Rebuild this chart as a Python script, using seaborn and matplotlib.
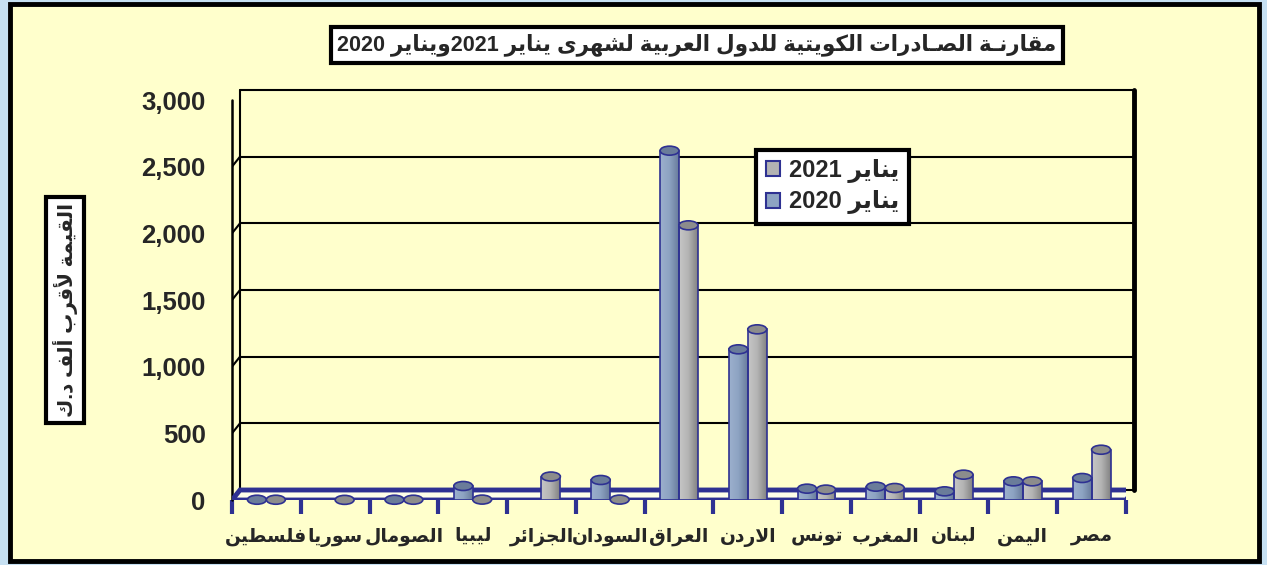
import re
import numpy as np
import pandas as pd
import matplotlib
matplotlib.use('Agg')
import matplotlib.pyplot as plt
import seaborn as sns
from matplotlib.patches import Ellipse, Rectangle, Polygon
from matplotlib.lines import Line2D
from matplotlib.transforms import offset_copy, IdentityTransform
from matplotlib.ticker import FuncFormatter
from matplotlib.colors import LinearSegmentedColormap

# data (values in thousand KD)
countries = ['فلسطين', 'سوريا', 'الصومال', 'ليبيا', 'الجزائر', 'السودان', 'العراق',
             'الاردن', 'تونس', 'المغرب', 'لبنان', 'اليمن', 'مصر']
jan_2020 = [2, 0, 2, 105, 0, 150, 2620, 1130, 85, 100, 65, 140, 165]
jan_2021 = [2, 1, 2, 3, 176, 3, 2060, 1280, 78, 90, 190, 140, 377]
years = ['2020', '2021']
y_ticks = [0, 500, 1000, 1500, 2000, 2500, 3000]

title = 'مقارنـة الصـادرات الكويتية للدول العربية لشهرى يناير 2021ويناير 2020'
ylabel = 'القيمة لأقرب ألف د.ك'
legend_labels = {'2021': 'يناير 2021', '2020': 'يناير 2020'}


# --- minimal Arabic shaping + right-to-left ordering (matplotlib has no shaping) ---
_letters = [('\u0621', 0xFE80, 1), ('\u0622', 0xFE81, 2), ('\u0623', 0xFE83, 2),
            ('\u0624', 0xFE85, 2), ('\u0625', 0xFE87, 2), ('\u0626', 0xFE89, 4),
            ('\u0627', 0xFE8D, 2), ('\u0628', 0xFE8F, 4), ('\u0629', 0xFE93, 2),
            ('\u062a', 0xFE95, 4), ('\u062b', 0xFE99, 4), ('\u062c', 0xFE9D, 4),
            ('\u062d', 0xFEA1, 4), ('\u062e', 0xFEA5, 4), ('\u062f', 0xFEA9, 2),
            ('\u0630', 0xFEAB, 2), ('\u0631', 0xFEAD, 2), ('\u0632', 0xFEAF, 2),
            ('\u0633', 0xFEB1, 4), ('\u0634', 0xFEB5, 4), ('\u0635', 0xFEB9, 4),
            ('\u0636', 0xFEBD, 4), ('\u0637', 0xFEC1, 4), ('\u0638', 0xFEC5, 4),
            ('\u0639', 0xFEC9, 4), ('\u063a', 0xFECD, 4), ('\u0641', 0xFED1, 4),
            ('\u0642', 0xFED5, 4), ('\u0643', 0xFED9, 4), ('\u0644', 0xFEDD, 4),
            ('\u0645', 0xFEE1, 4), ('\u0646', 0xFEE5, 4), ('\u0647', 0xFEE9, 4),
            ('\u0648', 0xFEED, 2), ('\u0649', 0xFEEF, 2), ('\u064a', 0xFEF1, 4)]
FORMS = {c: [chr(b + k) if k < n else None for k in range(4)] for c, b, n in _letters}
FORMS['\u0640'] = ['\u0640'] * 4  # tatweel
LAM_ALEF = {'\u0622': 0xFEF5, '\u0623': 0xFEF7, '\u0625': 0xFEF9, '\u0627': 0xFEFB}


def shape(text):
    out = []
    prev_joins = False
    i = 0
    while i < len(text):
        c = text[i]
        if c == '\u0644' and i + 1 < len(text) and text[i + 1] in LAM_ALEF:
            out.append(chr(LAM_ALEF[text[i + 1]] + (1 if prev_joins else 0)))
            prev_joins = False
            i += 2
            continue
        if c not in FORMS:
            out.append(c)
            prev_joins = False
            i += 1
            continue
        f = FORMS[c]
        nxt = text[i + 1] if i + 1 < len(text) else ''
        join_next = f[2] is not None and nxt in FORMS
        if prev_joins and join_next:
            out.append(f[3])
        elif prev_joins:
            out.append(f[1])
        elif join_next:
            out.append(f[2])
        else:
            out.append(f[0])
        prev_joins = join_next
        i += 1
    return ''.join(out)


def visual(text):
    tokens = re.split(r'([0-9][0-9,\.]*)', shape(text))
    return ''.join(t if re.match(r'[0-9]', t) else t[::-1] for t in reversed(tokens))


navy = '#2e3192'
bg = '#ffffcc'
palette = {'2020': '#8da3c2', '2021': '#b3b3b3'}
top_colors = {'2020': '#6a7c9a', '2021': '#8c8c8c'}
cmaps = {'2020': LinearSegmentedColormap.from_list('b', ['#9cb0cd', '#8da3c2', '#687c9c']),
         '2021': LinearSegmentedColormap.from_list('g', ['#c6c6c6', '#b3b3b3', '#828282'])}

df = pd.DataFrame({
    'country': [visual(c) for c in countries] * 2,
    'year': ['2020'] * len(countries) + ['2021'] * len(countries),
    'value': jan_2020 + jan_2021,
})

sns.set_style('white')
plt.rcParams['font.family'] = ['Liberation Sans', 'DejaVu Sans']
plt.rcParams['font.weight'] = 'bold'

fig = plt.figure(figsize=(12.67, 5.65), dpi=100)
fig.patch.set_facecolor('#c6e0f2')
fig.add_artist(Rectangle((10 / 1267, 4 / 565), 1249 / 1267, 557 / 565, transform=fig.transFigure,
                         facecolor=bg, edgecolor='black', linewidth=3.5, zorder=0))

ax = fig.add_axes([232 / 1267, 1 - 500 / 565, 894 / 1267, 400 / 565])
ax.set_facecolor('none')

sns.barplot(data=df, x='country', y='value', hue='year', hue_order=years, palette=palette,
            width=0.55, saturation=1, edgecolor=navy, linewidth=1.2, legend=False, ax=ax, zorder=3)

ax.set_xlim(-0.5, 12.5)
ax.set_ylim(0, 3000)
for s in ax.spines.values():
    s.set_visible(False)

px_per_unit = ax.transData.transform((0, 1))[1] - ax.transData.transform((0, 0))[1]
ell_h = 9 / px_per_unit

# cylinders: gradient body + elliptical top
grad = np.linspace(0, 1, 64).reshape(1, -1)
for yr, cont in zip(years, ax.containers):
    for patch in cont.patches:
        h = patch.get_height()
        if not h or np.isnan(h):
            continue
        x0, w = patch.get_x(), patch.get_width()
        ax.imshow(grad, extent=(x0, x0 + w, 0, h), aspect='auto', cmap=cmaps[yr], zorder=2.9)
        patch.set_facecolor('none')
        ax.add_patch(Ellipse((x0 + w / 2, h), w, ell_h, facecolor=top_colors[yr],
                             edgecolor=navy, linewidth=1.2, zorder=4, clip_on=False))
ax.set_xlim(-0.5, 12.5)
ax.set_ylim(0, 3000)

# back wall grid, left wall and right axis (3D look)
back = offset_copy(ax.transData, fig=fig, x=8, y=10, units='dots')
for t in y_ticks:
    ax.plot([-0.5, 12.5], [t, t], color='black', lw=1.5, transform=back, clip_on=False, zorder=1)
    p = ax.transData.transform((-0.5, t))
    ax.add_line(Line2D([p[0], p[0] + 8], [p[1], p[1] + 10], color='black', lw=1.5,
                       transform=IdentityTransform(), zorder=1))
    q = back.transform((12.5, t))
    ax.add_line(Line2D([q[0], q[0] + 9], [q[1], q[1]], color='black', lw=4,
                       transform=IdentityTransform(), zorder=1))
ax.plot([-0.5, -0.5], [0, 3000], color='black', lw=1.8, clip_on=False, zorder=1)
ax.plot([-0.5, -0.5], [0, 3000], color='black', lw=1.5, transform=back, clip_on=False, zorder=1)
ax.plot([12.5, 12.5], [0, 3000], color='black', lw=3.5, transform=back, clip_on=False, zorder=1)

# floor
fl = ax.transData.transform((-0.5, 0))
fr = ax.transData.transform((12.5, 0))
floor = Polygon([fl, fr, fr + [8, 10], fl + [8, 10]], closed=True, transform=IdentityTransform(),
                facecolor='#ffffe8', edgecolor=navy, linewidth=3.5, zorder=2)
ax.add_patch(floor)

ax.set_yticks(y_ticks)
ax.yaxis.set_major_formatter(FuncFormatter(lambda v, p: f'{int(v):,}'))
ax.tick_params(axis='y', length=0, pad=19, labelsize=18.5)
ax.set_xticks(np.arange(-0.5, 13, 1), minor=True)
ax.tick_params(axis='x', which='major', length=0, pad=20, labelsize=13.5)
ax.tick_params(axis='x', which='minor', bottom=True, length=10, width=3, color=navy)
ax.set_xlabel('')
ax.set_ylabel('')

handles = [Rectangle((0, 0), 1, 1, facecolor=palette['2021'], edgecolor=navy, lw=1.5),
           Rectangle((0, 0), 1, 1, facecolor=palette['2020'], edgecolor=navy, lw=1.5)]
leg = ax.legend(handles, [visual(legend_labels['2021']), visual(legend_labels['2020'])],
                loc='upper left', bbox_to_anchor=(0.573, 0.905), fancybox=False, framealpha=1,
                edgecolor='black', handlelength=0.6, handleheight=0.6, handletextpad=0.4,
                borderpad=0.4, labelspacing=0.3, prop={'size': 17, 'weight': 'bold'})
leg.get_frame().set_linewidth(3)
leg.set_zorder(10)

fig.text(697 / 1267, 1 - 45 / 565, visual(title), ha='center', va='center', fontsize=15.5,
         fontweight='bold', bbox=dict(boxstyle='square,pad=0.3', facecolor='white',
                                      edgecolor='black', linewidth=3))
fig.text(65 / 1267, 1 - 310 / 565, visual(ylabel), rotation=90, ha='center', va='center',
         fontsize=14.5, fontweight='bold', bbox=dict(boxstyle='square,pad=0.3', facecolor='white',
                                                    edgecolor='black', linewidth=3))

fig.savefig('out.png', dpi=100, facecolor=fig.get_facecolor())
